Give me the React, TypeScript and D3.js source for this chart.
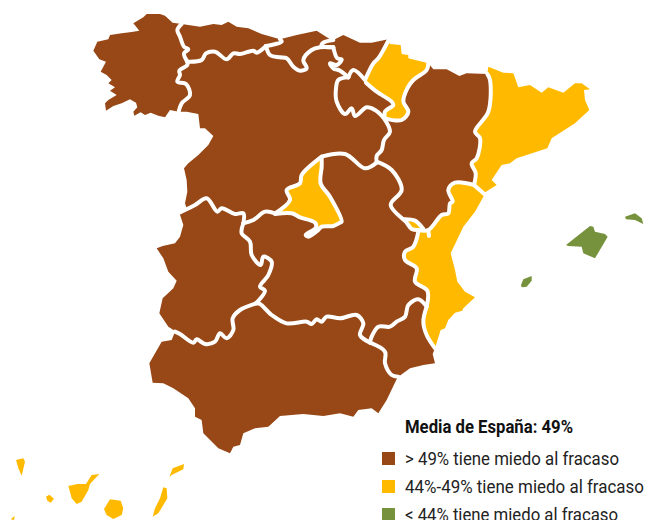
import React from "react";
import * as d3 from "d3";

type P = [number, number];
const W = 646, H = 520;
const BROWN = "#974816", YELLOW = "#ffba00", GREEN = "#76923c";

const frame = (ox: number, oy: number, k = 3) => {
  const sx = d3.scaleLinear().domain([0, k]).range([ox, ox + 1]);
  const sy = d3.scaleLinear().domain([0, k]).range([oy, oy + 1]);
  return (pts: number[][]): P[] => pts.map(([x, y]) => [sx(x), sy(y)]);
};
const A = frame(80, 0), B = frame(330, 30), C = frame(140, 200), D = frame(0, 410), E = frame(400, 250);
const rev = (a: P[]) => [...a].reverse();

const galiciaCoast = A([[296,335],[270,330],[255,352],[235,347],[212,338],[195,345],[182,337],[163,347],[160,335],[172,322],[168,308],[150,298],[125,310],[100,318],[78,332],[75,310],[85,300],[110,285],[90,272],[105,262],[85,250],[95,240],[80,225],[62,215],[78,185],[58,178],[40,152],[52,125],[85,118],[90,105],[125,100],[155,96],[178,92],[160,70],[190,52],[200,42],[240,42],[255,47],[278,68],[305,72]]);
const galAst = A([[305,72],[292,90],[300,110],[312,140],[325,148],[312,160],[322,185]]);
const galCyl = A([[322,185],[322,195],[298,212],[300,225],[292,245],[318,252],[330,285],[305,310],[296,335]]);
const astCoast = A([[305,72],[360,80],[400,72],[425,75],[445,65],[470,80],[505,85],[545,102],[600,118]]);
const astCant = A([[600,118],[605,125],[575,135],[558,138]]);
const astCyl = A([[322,185],[365,180],[378,160],[405,155],[440,178],[460,160],[480,162],[520,152],[530,158],[558,138]]);
const cantCoast = A([[600,118],[650,105],[710,92],[750,118],[760,120]]);
const cantCyl = A([[558,138],[570,165],[600,172],[620,175],[640,200],[660,212],[680,205],[670,180],[695,150],[720,142],[760,142]]);
const cantBasque = A([[760,120],[730,128],[725,138],[760,142]]);
const basqueCoast = A([[760,120],[790,105],[840,128],[875,128],[925,118]]);
const basqueCyl = A([[760,142],[772,175],[785,178],[770,195],[750,190],[760,205],[780,212],[805,232]]);
const basqueRioja = A([[805,232],[820,210],[855,240]]);
const basqueNav = A([[855,240],[880,190],[895,175],[925,122]]);
const navCoast = B([[180,42],[212,45],[215,72],[235,75],[235,85],[295,100]]);
const navAragon = B([[295,100],[290,120],[250,150],[232,175],[220,215],[235,245],[215,270],[165,265]]);
const rioNav = B([[108,158],[140,185],[185,215],[190,225],[165,245],[165,265]]);
const rioCyl = A([[805,232],[775,240],[768,265],[770,305],[795,342],[815,325],[825,348],[860,322],[885,330],[910,352]]);
const aragonCyl = A([[910,352],[930,395],[912,420],[905,450],[890,468],[890,488]]);
const aragonClm = B([[140,395],[185,420],[215,480],[182,525],[230,578],[245,597],[265,600]]);
const aragonVal = B([[265,600],[295,600],[335,555],[355,550],[360,520],[368,515],[355,480],[375,458],[432,465]]);
const aragonCoast = B([[295,100],[310,118],[350,118],[388,138],[410,130],[472,132]]);
const aragonCat = B([[472,132],[480,150],[475,245],[435,305],[450,325],[440,385],[425,400],[437,430],[432,465]]);
const catCoast = B([[475,110],[520,128],[550,130],[565,172],[600,165],[635,188],[655,172],[700,188],[735,160],[755,160],[780,178],[762,180],[765,210],[778,240],[735,280],[665,325],[652,355],[560,385],[540,400],[515,405],[485,450],[500,465],[463,488]]);
const catVal = B([[432,465],[463,492]]);
const valCoast = [...B([[460,500],[435,545],[400,590],[362,670]]), ...E([[165,60],[172,95],[195,125],[225,142],[190,175],[187,182],[165,188],[145,210],[135,235],[122,240],[105,295]])];
const valClm = C([[835,95],[820,140],[795,155],[795,180],[830,205],[825,245],[862,272],[860,320]]);
const valMurcia = C([[860,320],[850,365],[860,405],[885,445]]);
const murciaClm = C([[860,320],[835,298],[805,315],[795,350],[770,365],[750,380],[715,380],[695,410],[690,428]]);
const murciaAnd = C([[690,428],[735,455],[735,490],[755,525],[775,530]]);
const murciaCoast = C([[775,530],[810,505],[850,495],[885,490],[878,462],[885,445]]);
const andClm = C([[690,428],[660,405],[670,370],[650,345],[600,355],[560,350],[545,365],[530,358],[515,372],[500,365],[440,370],[395,345],[360,312],[348,310]]);
const andExt = C([[348,310],[300,330],[278,355],[280,390],[260,415],[240,400],[225,425],[195,432],[170,418],[160,428],[120,402],[105,395]]);
const andCoast = C([[105,395],[95,420],[65,425],[28,490],[38,548],[70,550],[100,565],[145,595],[165,625],[165,650],[185,660],[190,700],[235,745],[270,760],[280,740],[300,735],[310,700],[345,685],[385,680],[420,648],[490,642],[550,648],[600,640],[640,650],[655,630],[695,625],[715,640],[740,600],[772,533]]);
const extCoast = C([[105,393],[85,380],[58,340],[68,295],[100,265],[110,242],[85,215],[70,175],[50,145],[68,138],[105,130],[120,110],[130,75],[118,38]]);
const extClm = C([[310,70],[305,100],[330,125],[335,165],[362,195],[370,170],[395,185],[385,225],[360,260],[375,272],[348,310]]);
const extCyl = A([[298,638],[345,615],[380,595],[412,635],[425,625],[465,642],[490,640],[490,670]]);
const cylCoast = A([[296,335],[320,335],[355,342],[360,385],[375,385],[400,408],[385,435],[355,465],[325,490],[312,505],[320,540],[322,575],[315,610],[320,625],[298,638]]);
const cylClmWest = A([[490,670],[520,660],[555,635],[585,640]]);
const cylMadrid = A([[585,640],[630,600],[620,570],[660,550],[665,525],[725,470]]);
const cylClmEast = A([[725,470],[795,462],[855,505],[890,488]]);
const madridEast = A([[725,470],[725,500],[722,550],[750,590],[785,665]]);
const madridSouth = C([[600,68],[580,78],[545,80],[535,90],[505,110],[497,105],[528,82],[525,68],[480,52],[455,40],[405,42]]);
const ademuz = B([[232,572],[255,576],[276,594],[245,597]]);
const ademuzTop = B([[222,568],[255,572],[280,597]]);
const valSpike = B([[295,600],[297,618]]);

const mallorca = B([[708,645],[780,588],[790,590],[795,605],[825,612],[833,620],[795,685],[760,670],[755,650],[715,648]]);
const menorca = B([[885,560],[915,550],[935,565],[940,582],[915,570],[888,568]]);
const ibiza = E([[363,105],[370,88],[395,78],[395,92],[380,110],[365,112]]);
const laPalma = D([[48,150],[70,145],[75,155],[65,197],[55,175]]);
const elHierro = D([[32,328],[44,318],[42,330]]);
const laGomera = D([[138,260],[148,254],[162,266],[152,278],[142,272]]);
const tenerife = D([[205,228],[232,222],[258,222],[275,195],[298,192],[270,222],[265,240],[245,275],[230,282],[215,265]]);
const granCanaria = D([[330,268],[362,272],[370,295],[365,315],[340,327],[320,315],[312,297]]);
const fuerteventura = D([[490,232],[500,235],[502,265],[475,310],[458,320],[465,295],[480,265]]);
const lanzarote = D([[518,175],[552,162],[550,178],[515,195],[508,202]]);

const regionFills: [P[], string][] = [
  [[...galiciaCoast, ...galAst, ...galCyl], BROWN],
  [[...astCoast, ...astCant, ...rev(astCyl), ...rev(galAst)], BROWN],
  [[...cantCoast, ...cantBasque, ...rev(cantCyl), ...rev(astCant)], BROWN],
  [[...basqueCoast, ...rev(basqueNav), ...rev(basqueRioja), ...rev(basqueCyl), ...rev(cantBasque)], BROWN],
  [[...navCoast, ...navAragon, ...rev(rioNav), ...basqueNav], YELLOW],
  [[...rioCyl, ...rev(rioNav), ...rev(basqueRioja)], BROWN],
  [[...galCyl, ...cylCoast, ...extCyl, ...cylClmWest, ...cylMadrid, ...cylClmEast, ...rev(aragonCyl), ...rev(rioCyl), ...rev(basqueCyl), ...rev(cantCyl), ...rev(astCyl)], BROWN],
  [[...aragonCoast, ...aragonCat, ...rev(aragonVal), ...rev(aragonClm), ...rev(aragonCyl), ...rev(navAragon)], BROWN],
  [[...catCoast, ...rev(catVal), ...rev(aragonCat)], YELLOW],
  [[...catVal, ...valCoast, ...rev(valMurcia), ...rev(valClm), ...aragonVal], YELLOW],
  [[...murciaClm, ...murciaAnd, ...murciaCoast, ...rev(valMurcia)], BROWN],
  [[...andCoast, ...rev(murciaAnd), ...andClm, ...andExt], BROWN],
  [[...extCoast, ...extCyl, ...extClm, ...andExt], BROWN],
  [[...extClm, ...rev(andClm), ...rev(murciaClm), ...rev(valClm), ...rev(aragonClm), ...rev(cylClmEast), ...madridEast, ...madridSouth, ...rev(cylClmWest)], BROWN],
  [[...cylMadrid, ...madridEast, ...madridSouth], YELLOW],
  [ademuz, YELLOW],
  [mallorca, GREEN], [menorca, GREEN], [ibiza, GREEN],
  [laPalma, YELLOW], [elHierro, YELLOW], [laGomera, YELLOW], [tenerife, YELLOW],
  [granCanaria, YELLOW], [fuerteventura, YELLOW], [lanzarote, YELLOW],
];

const borderLines: P[][] = [
  galAst, galCyl, astCant, astCyl, cantCyl, cantBasque, basqueCyl, basqueRioja, basqueNav, navAragon, rioNav, rioCyl,
  aragonCyl, aragonClm, aragonVal, aragonCat, catVal, valClm, valMurcia, murciaClm, murciaAnd, andClm, andExt, extClm,
  extCyl, cylClmWest, cylMadrid, cylClmEast, [...madridEast, ...madridSouth], ademuzTop, valSpike,
];

const legendTitle = "Media de España: 49%";
const legendLabels = ["> 49% tiene miedo al fracaso", "44%-49% tiene miedo al fracaso", "< 44% tiene miedo al fracaso"];
const legendWidths = [214, 239, 213];
const legendColors = [BROWN, YELLOW, GREEN];

const x = d3.scaleIdentity();
const y = d3.scaleIdentity();
const closed = d3.line<P>().x(p => x(p[0])).y(p => y(p[1])).curve(d3.curveLinearClosed);
const smooth = d3.line<P>().x(p => x(p[0])).y(p => y(p[1])).curve(d3.curveCatmullRom.alpha(0.5));
const legendY = d3.scaleLinear().domain([0, 1]).range([458.5, 486.5]);

export default function App() {
  return (
    <svg width={W} height={H} viewBox={`0 0 ${W} ${H}`} style={{ position: "absolute", left: 0, top: 0, background: "#fff" }}>
      {regionFills.map(([pts, c], i) => <path key={i} d={closed(pts) ?? ""} fill={c} />)}
      {borderLines.map((pts, i) => (
        <path key={i} d={smooth(pts) ?? ""} fill="none" stroke="#fff" strokeWidth={4} strokeLinejoin="round" strokeLinecap="round" />
      ))}
      <text x={405} y={433} fontFamily="Roboto" fontWeight={700} fontSize={18.5} fill="#111" textLength={168} lengthAdjust="spacingAndGlyphs">{legendTitle}</text>
      {legendLabels.map((t, i) => (
        <g key={t}>
          <rect x={382} y={legendY(i) - 6.5} width={13} height={13} fill={legendColors[i]} />
          <text x={405} y={legendY(i) + 6} fontFamily="Roboto" fontSize={18.5} fill="#222" textLength={legendWidths[i]} lengthAdjust="spacingAndGlyphs">{t}</text>
        </g>
      ))}
    </svg>
  );
}
